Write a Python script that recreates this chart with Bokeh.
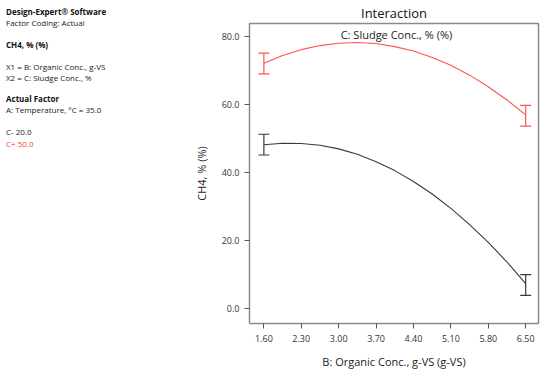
from bokeh.plotting import figure
from bokeh.layouts import row
from bokeh.models import Range1d, FixedTicker, Label, Whisker, ColumnDataSource, TeeHead, Div
from bokeh.embed import file_html
from bokeh.resources import INLINE

# ---- data ----
organic_conc = [1.60, 1.95, 2.30, 2.65, 3.00, 3.35, 3.70, 4.05, 4.40, 4.75, 5.10, 5.45, 5.80, 6.15, 6.50]
ch4_sludge_low = [48.2, 48.65, 48.6, 48.05, 47.0, 45.4, 43.2, 40.6, 37.4, 33.7, 29.5, 24.7, 19.5, 13.7, 7.35]
ch4_sludge_high = [72.2, 74.5, 76.2, 77.4, 78.1, 78.3, 78.0, 77.1, 75.8, 73.9, 71.6, 68.7, 65.3, 61.4, 57.0]

bar_x = [1.60, 6.50]
low_upper = [51.3, 10.0]
low_lower = [45.2, 3.9]
high_upper = [75.2, 59.8]
high_lower = [69.1, 53.7]

x_ticks = [1.60, 2.30, 3.00, 3.70, 4.40, 5.10, 5.80, 6.50]
x_tick_labels = ["1.60", "2.30", "3.00", "3.70", "4.40", "5.10", "5.80", "6.50"]
y_ticks = [0, 20, 40, 60, 80]
y_tick_labels = ["0.0", "20.0", "40.0", "60.0", "80.0"]

info_lines = ["Design-Expert\u00ae Software", "Factor Coding: Actual", "CH4, % (%)",
              "X1 = B: Organic Conc., g-VS", "X2 = C: Sludge Conc., %", "Actual Factor",
              "A: Temperature, \u00b0C = 35.0", "C- 20.0", "C+ 50.0"]
info_weights = ["bold", "normal", "bold", "normal", "normal", "bold", "normal", "normal", "normal"]
info_colors = ["#111111", "#1a1a1a", "#111111", "#1a1a1a", "#1a1a1a", "#111111", "#1a1a1a", "#1a1a1a", "#ff3b3b"]
info_center_y = [12, 23, 44.5, 66.5, 77.5, 99, 110, 132, 143.5]

FONT = "Open Sans"
RED = "#ff5252"
DARK = "#3a3a3a"

# ---- left info panel ----
parts = []
for txt, wt, col, cy in zip(info_lines, info_weights, info_colors, info_center_y):
    parts.append(
        f'<div style="position:absolute;left:6px;top:{cy - 6}px;height:12px;line-height:12px;'
        f'white-space:nowrap;font-weight:{wt};color:{col};">{txt}</div>')
html = (f'<div style="position:relative;width:190px;height:375px;margin:0;padding:0;'
        f"font-family:'{FONT}',sans-serif;font-size:8px;\">" + "".join(parts) + "</div>")
info = Div(text=html, width=190, height=375, margin=(0, 0, 0, 0))

# ---- main interaction plot ----
p = figure(width=360, height=375, output_backend="svg", toolbar_location=None,
           x_range=Range1d(1.331, 6.74), y_range=Range1d(-4.4, 83.9),
           min_border_left=53, min_border_right=12, min_border_top=23, min_border_bottom=52)
p.background_fill_color = "white"
p.border_fill_color = "white"
p.outline_line_color = "#8a8a8a"
p.outline_line_width = 1.5
p.xgrid.visible = False
p.ygrid.visible = False

p.title.text = "Interaction"
p.title.align = "center"
p.title.text_font = FONT
p.title.text_font_size = "13px"
p.title.text_font_style = "normal"
p.title.text_color = "#111111"
p.title.standoff = 3
p.title.offset = 0

for ax in (p.xaxis[0], p.yaxis[0]):
    ax.axis_line_color = "#8a8a8a"
    ax.major_tick_line_color = "#555555"
    ax.minor_tick_line_color = None
    ax.major_tick_in = 0
    ax.major_tick_out = 5
    ax.major_label_text_font = FONT
    ax.major_label_text_font_size = "9px"
    ax.major_label_text_color = "#333333"
    ax.axis_label_text_font = FONT
    ax.axis_label_text_font_size = "11px"
    ax.axis_label_text_font_style = "normal"
    ax.axis_label_text_color = "#222222"
    ax.major_label_standoff = 5

p.xaxis[0].ticker = FixedTicker(ticks=x_ticks)
p.xaxis[0].major_label_overrides = dict(zip(x_ticks, x_tick_labels))
p.yaxis[0].ticker = FixedTicker(ticks=y_ticks)
p.yaxis[0].major_label_overrides = dict(zip(y_ticks, y_tick_labels))
p.xaxis[0].axis_label = "B: Organic Conc., g-VS (g-VS)"
p.yaxis[0].axis_label = "CH4, % (%)"
p.xaxis[0].major_label_standoff = 6
p.xaxis[0].axis_label_standoff = 9
p.yaxis[0].axis_label_standoff = 10

p.line(organic_conc, ch4_sludge_high, line_color=RED, line_width=1.1)
p.line(organic_conc, ch4_sludge_low, line_color=DARK, line_width=1.1)

for up, lo, col in ((high_upper, high_lower, RED), (low_upper, low_lower, DARK)):
    src = ColumnDataSource(dict(base=bar_x, upper=up, lower=lo))
    w = Whisker(base="base", upper="upper", lower="lower", source=src, dimension="height",
                line_color=col, line_width=1.2,
                upper_head=TeeHead(size=11, line_color=col, line_width=1.2),
                lower_head=TeeHead(size=11, line_color=col, line_width=1.2))
    p.add_layout(w)

p.add_layout(Label(x=147, y=289, x_units="screen", y_units="screen", text="C: Sludge Conc., % (%)",
                   text_font=FONT, text_font_size="11px", text_color="#222222",
                   text_align="center", text_baseline="middle"))

layout = row(info, p, spacing=0)
open("out.html", "w").write(file_html(layout, INLINE))
